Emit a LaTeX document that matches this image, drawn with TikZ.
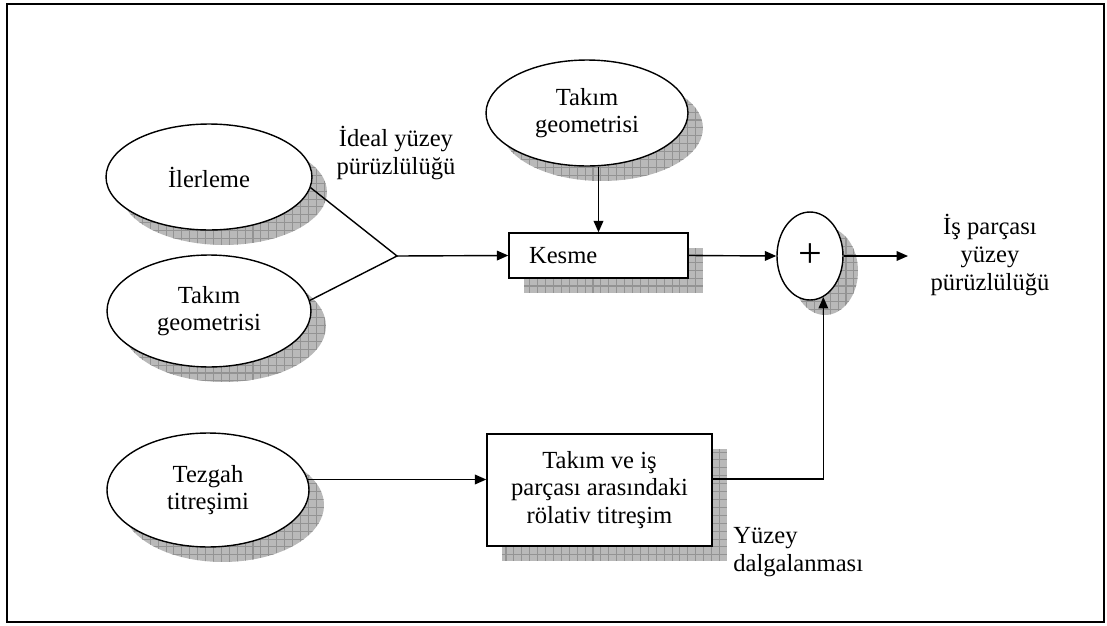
\documentclass[tikz,border=0pt]{standalone}
\usepackage{fontspec}
\setmainfont{Liberation Serif}
\usepackage{tikz}
\usetikzlibrary{shapes.geometric,arrows.meta,patterns.meta}

\tikzdeclarepattern{
  name=shadowgrid,
  type=uncolored,
  bottom left={(-.5pt,-.5pt)},
  top right={(4.5pt,4.5pt)},
  tile size={(4.5pt,4.5pt)},
  code={
    \pgfsetlinewidth{0.6pt}
    \pgfpathmoveto{\pgfpoint{0pt}{0pt}}\pgfpathlineto{\pgfpoint{4.5pt}{0pt}}
    \pgfpathmoveto{\pgfpoint{0pt}{0pt}}\pgfpathlineto{\pgfpoint{0pt}{4.5pt}}
    \pgfusepath{stroke}
  }
}

\tikzset{
  gridshadow/.style={
    preaction={fill=gray!55, transform canvas={shift={(0.3cm,-0.3cm)}}},
    preaction={pattern=shadowgrid, pattern color=gray!85, transform canvas={shift={(0.3cm,-0.3cm)}}}},
  txt/.style={font=\fontsize{14}{15.8}\selectfont, align=center, inner sep=0pt},
  oval/.style={ellipse, draw, line width=0.8pt, fill=white, gridshadow, txt},
  block/.style={rectangle, draw, line width=0.8pt, fill=white, gridshadow, txt},
  flow/.style={line width=0.8pt, -{Triangle[length=6.5pt,width=5.5pt]}}
}

\begin{document}
\begin{tikzpicture}[x=0.02cm, y=-0.02cm]
        \useasboundingbox (0,0) rectangle (1107,626);
        \draw[line width=1.4pt] (7,4) rectangle (1104,622);
        % inputs
        \node[oval, minimum width=4.12cm, minimum height=2.12cm] (ilerleme) at (209,177) {İlerleme};
        \node[oval, minimum width=4.08cm, minimum height=2.24cm] (geoleft) at (209,311) {Takım\\geometrisi};
        \node[oval, minimum width=4.04cm, minimum height=2.28cm] (tezgah) at (208,490) {Tezgah\\titreşimi};
        \node[oval, minimum width=4.04cm, minimum height=2.12cm] (geotop) at (587,113) {Takım\\geometrisi};
        % blocks
        \node[block, minimum width=3.58cm, minimum height=0.9cm, text width=2.78cm, inner xsep=0.4cm, align=left] (kesme) at (598.5,255.5) {Kesme};
        \node[block, minimum width=4.5cm, minimum height=2.24cm] (relbox) at (599.5,490) {Takım ve iş\\parçası arasındaki\\rölativ titreşim};
        \node[oval, minimum width=1.32cm, minimum height=1.76cm] (plus) at (810,256) {\fontsize{24}{24}\selectfont +};
        % labels
        \node[txt] (ideal) at (396,153) {İdeal yüzey\\pürüzlülüğü};
        \node[txt] (outlbl) at (990,255) {İş parçası\\yüzey\\pürüzlülüğü};
        \node[txt, align=left, anchor=west] (dalga) at (733,552) {Yüzey\\dalgalanması};
        \coordinate (join) at (397,256);
        \coordinate (outend) at (908,256);
        % connectors
        \draw[line width=0.8pt] (ilerleme.354) -- (join) -- (geoleft.6);
        \draw[flow] (join) -- (kesme.west);
        \draw[flow] (geotop.south -| kesme.north) -- (kesme.north);
        \draw[flow] (kesme.east) -- (plus.west);
        \draw[flow] (plus.east) -- (outend);
        \draw[flow] (tezgah.6) -- (tezgah.6 -| relbox.west);
        \draw[flow] ([yshift=0.22cm]relbox.east) -| (plus.288);
    \end{tikzpicture}
\end{document}
